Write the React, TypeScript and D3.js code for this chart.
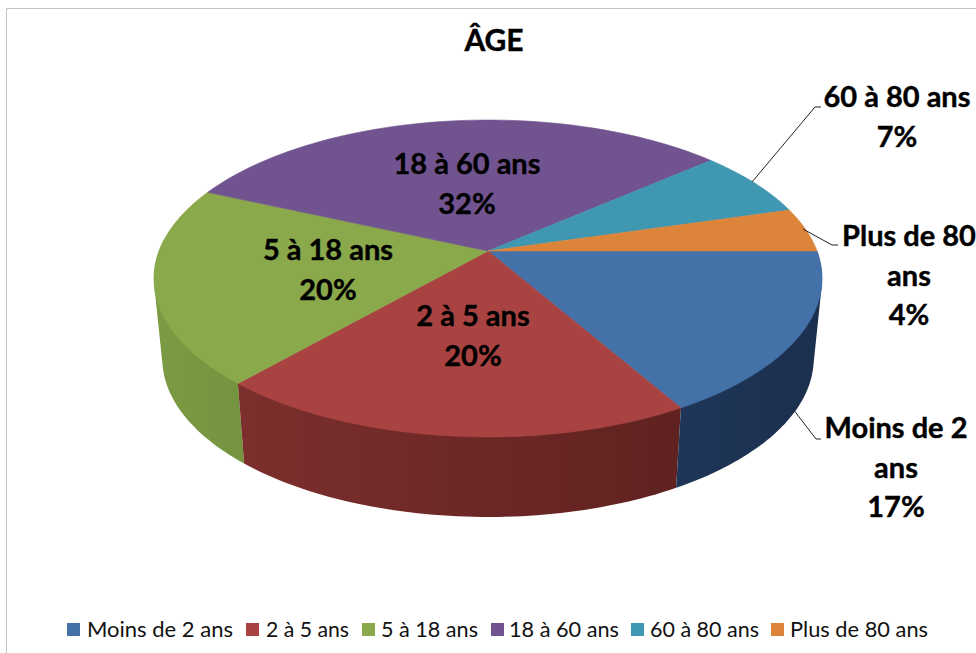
import React from "react";
import * as d3 from "d3";

const categories = ["Moins de 2 ans", "2 à 5 ans", "5 à 18 ans", "18 à 60 ans", "60 à 80 ans", "Plus de 80 ans"];
// shares of the circle as drawn in the picture
const drawnShares = [16.7, 19.8, 20.2, 31.9, 6.9, 4.5];
const topColors = ["#4371a8", "#a94341", "#89a94b", "#71548f", "#3f97b1", "#dc843a"];
const sideDark = ["#1b2f4e", "#5f2220", "#749440", "#4b3763", "#2a6a7e", "#9c5a24"];
const sideLight = ["#1f3658", "#7c2f2d", "#7a9a43", "#5a4377", "#2f7a90", "#b06a2c"];

const W = 976, H = 653;
const cx = 488, cy = 251, a = 329, b = 153.7, k = 0.1735, depth = 80, taper = 0.975;

const project = (t: number): [number, number] => {
  const x = Math.cos(t), y = Math.sin(t), w = 1 - k * y;
  return [cx + (a * x) / w, cy + (b * y) / w];
};
const projectLow = (t: number): [number, number] => {
  const [x, y] = project(t);
  return [cx + (x - cx) * taper, y + depth];
};

const pie = d3.pie<number>().sort(null).startAngle(0).endAngle(2 * Math.PI);
const slices = pie(drawnShares);
const line = d3.line();
const sample = (s: number, e: number) => d3.range(0, 61).map((i) => s + ((e - s) * i) / 60);

const labelFont = "Lato, 'Open Sans', sans-serif";
const dataLabels = [
  { i: 0, x: 896, lines: ["Moins de 2", "ans", "17%"], y: 438 },
  { i: 1, x: 473, lines: ["2 à 5 ans", "20%"], y: 326 },
  { i: 2, x: 328, lines: ["5 à 18 ans", "20%"], y: 260 },
  { i: 3, x: 467, lines: ["18 à 60 ans", "32%"], y: 174 },
  { i: 4, x: 897, lines: ["60 à 80 ans", "7%"], y: 107 },
  { i: 5, x: 909, lines: ["Plus de 80", "ans", "4%"], y: 246 },
];
const leaders: [number, number][][] = [
  [[752, 182], [815, 107], [821, 107]],
  [[803, 229], [832, 245], [838, 245]],
  [[793, 409], [816, 439], [821, 439]],
];
const legendSwatchX = [67, 246, 362, 491, 631, 771];
const legendTextSpan = [[87, 146], [266, 83], [381, 97], [509, 110], [650, 109], [790, 138]];

export default function App() {
  const sides = slices.map((s, i) => {
    const ts = sample(s.startAngle, s.endAngle).filter((t) => Math.sin(t) >= -0.1);
    if (ts.length < 2 || s.startAngle > Math.PI) return null;
    const hull = d3.polygonHull([...ts.map(project), ...ts.map(projectLow)]);
    return <path key={i} d={line(hull as [number, number][]) + "Z"} fill={`url(#side${i})`} />;
  }).reverse();
  return (
    <svg width={W} height={H} style={{ position: "absolute", left: 0, top: 0, background: "#fff" }}>
      <defs>
        {slices.map((s, i) => {
          const p0 = project(Math.min(s.startAngle, Math.PI));
          const p1 = project(Math.min(s.endAngle, Math.PI));
          return (
            <linearGradient key={i} id={`side${i}`} gradientUnits="userSpaceOnUse" x1={p0[0]} x2={p1[0]} y1={0} y2={0}>
              <stop offset="0%" stopColor={sideDark[i]} />
              <stop offset="100%" stopColor={sideLight[i]} />
            </linearGradient>
          );
        })}
      </defs>
      <path d="M976.5,8.5H6.5V653" fill="none" stroke="#c4c4c4" strokeWidth={1} />
      {sides}
      {slices.map((s, i) => {
        const pts: [number, number][] = [[cx, cy], ...sample(s.startAngle, s.endAngle).map(project)];
        return <path key={i} d={line(pts) + "Z"} fill={topColors[i]} stroke={topColors[i]} strokeWidth={0.6} />;
      })}
      {leaders.map((l, i) => (
        <path key={i} d={line(l) ?? ""} fill="none" stroke="#222" strokeWidth={1} />
      ))}
      <text x={494} y={51} textAnchor="middle" fontFamily={labelFont} fontWeight={700} fontSize={30} fill="#000" stroke="#000" strokeWidth={0.4}>ÂGE</text>
      {dataLabels.map((d) =>
        d.lines.map((t, j) => (
          <text key={`${d.i}-${j}`} x={d.x} y={d.y + j * 39.5} textAnchor="middle" fontFamily={labelFont} fontWeight={700} fontSize={29} fill="#000" stroke="#000" strokeWidth={0.4}>{t}</text>
        ))
      )}
      {categories.map((c, i) => (
        <g key={c}>
          <rect x={legendSwatchX[i]} y={623} width={13} height={13} fill={topColors[i]} />
          <text x={legendTextSpan[i][0]} y={637} textLength={legendTextSpan[i][1]} lengthAdjust="spacingAndGlyphs" fontFamily={labelFont} fontSize={21} fill="#111">{c}</text>
        </g>
      ))}
    </svg>
  );
}
